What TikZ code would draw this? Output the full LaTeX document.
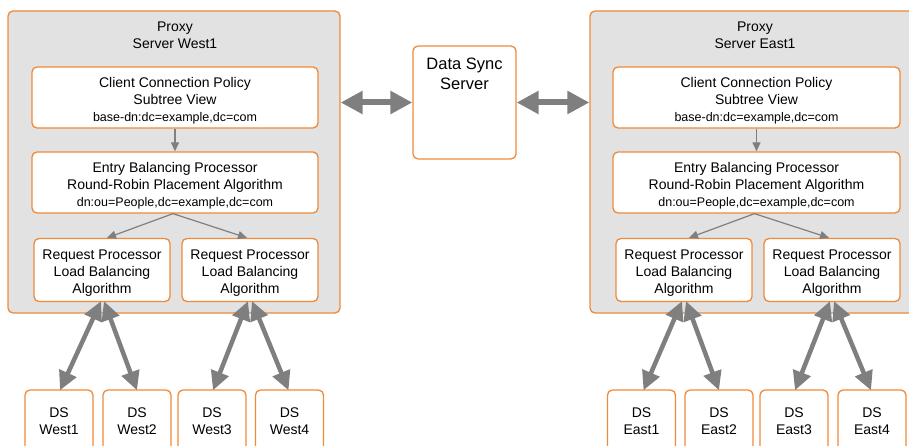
\documentclass[tikz,border=0pt]{standalone}
\usepackage{fontspec}
\setmainfont{Liberation Sans}
\usetikzlibrary{arrows.meta}
\definecolor{org}{RGB}{239,138,58}
\definecolor{pfill}{RGB}{226,226,226}
\definecolor{arr}{RGB}{127,127,127}
\tikzset{
  proxybox/.style={draw=org, line width=1.3pt, fill=pfill, rounded corners=5pt, inner sep=0pt},
  wbox/.style={draw=org, line width=1.3pt, fill=white, rounded corners=5pt, align=center, inner sep=0pt, font=\fontsize{14}{17}\selectfont},
  thin/.style={draw=arr, line width=1.2pt, -{Triangle[length=9pt,width=8pt]}},
  thick/.style={draw=arr, line width=4.5pt, {Triangle[length=19pt,width=18pt]}-{Triangle[length=19pt,width=18pt]}},
  hthick/.style={draw=arr, line width=6pt, {Triangle[length=22pt,width=22pt]}-{Triangle[length=22pt,width=22pt]}},
  ttl/.style={align=center, inner sep=0pt, font=\fontsize{14}{17}\selectfont}
}
\newcommand{\sm}[1]{{\fontsize{12.5}{14}\selectfont #1}}
\newcommand{\up}{\rule{0pt}{16pt}}
\begin{document}
\begin{tikzpicture}[x=1pt,y=-1pt]
\useasboundingbox (0,0) rectangle (909,446);
\clip (0,0) rectangle (909,446);
% proxy containers
\node[proxybox, minimum width=332pt, minimum height=302pt] (pw) at (174,162) {};
\node[proxybox, minimum width=330pt, minimum height=302pt] (pe) at (755,162) {};
\node[ttl, anchor=north] (tw) at (175,22) {Proxy\\Server West1};
\node[ttl, anchor=north] (te) at (755,22) {Proxy\\Server East1};
% data sync
\node[wbox, minimum width=103pt, minimum height=113pt] (ds) at (464.5,102.5) {};
\node[ttl, anchor=north, font=\fontsize{16.5}{20}\selectfont] (dst) at (464.5,58) {Data Sync\\Server};
% west inner
\node[wbox, minimum width=286pt, minimum height=61pt] (cw) at (175,97.5) {\up Client Connection Policy\\Subtree View\\\sm{base-dn:dc=example,dc=com}};
\node[wbox, minimum width=286pt, minimum height=61pt] (ew) at (175,182.5) {\up Entry Balancing Processor\\Round-Robin Placement Algorithm\\\sm{dn:ou=People,dc=example,dc=com}};
\node[wbox, minimum width=136pt, minimum height=63pt] (rw1) at (102,270) {\up Request Processor\\Load Balancing\\Algorithm};
\node[wbox, minimum width=136pt, minimum height=63pt] (rw2) at (250,270) {\up Request Processor\\Load Balancing\\Algorithm};
% east inner
\node[wbox, minimum width=287pt, minimum height=61pt] (ce) at (756.5,97.5) {\up Client Connection Policy\\Subtree View\\\sm{base-dn:dc=example,dc=com}};
\node[wbox, minimum width=287pt, minimum height=61pt] (ee) at (756.5,182.5) {\up Entry Balancing Processor\\Round-Robin Placement Algorithm\\\sm{dn:ou=People,dc=example,dc=com}};
\node[wbox, minimum width=136pt, minimum height=63pt] (re1) at (684,270) {\up Request Processor\\Load Balancing\\Algorithm};
\node[wbox, minimum width=136pt, minimum height=63pt] (re2) at (832,270) {\up Request Processor\\Load Balancing\\Algorithm};
% DS boxes
\node[wbox, minimum width=68pt, minimum height=62pt] (dw1) at (59,421) {DS\\West1};
\node[wbox, minimum width=68pt, minimum height=62pt] (dw2) at (137,421) {DS\\West2};
\node[wbox, minimum width=68pt, minimum height=62pt] (dw3) at (212,421) {DS\\West3};
\node[wbox, minimum width=68pt, minimum height=62pt] (dw4) at (289.5,421) {DS\\West4};
\node[wbox, minimum width=68pt, minimum height=62pt] (de1) at (641.5,421) {DS\\East1};
\node[wbox, minimum width=68pt, minimum height=62pt] (de2) at (719,421) {DS\\East2};
\node[wbox, minimum width=68pt, minimum height=62pt] (de3) at (794,421) {DS\\East3};
\node[wbox, minimum width=68pt, minimum height=62pt] (de4) at (872,421) {DS\\East4};
% thin arrows
\draw[thin] (cw.south) -- (ew.north);
\draw[thin] ([xshift=-2pt]ew.south) -- ([xshift=5pt]rw1.north);
\draw[thin] ([xshift=-2pt]ew.south) -- ([xshift=-3pt]rw2.north);
\draw[thin] (ce.south) -- (ee.north);
\draw[thin] ([xshift=-2pt]ee.south) -- ([xshift=5pt]re1.north);
\draw[thin] ([xshift=-2pt]ee.south) -- ([xshift=-3pt]re2.north);
% thick arrows
\draw[thick] ([xshift=-1pt,yshift=1pt]rw1.south) -- ([xshift=1pt,yshift=-1pt]dw1.north);
\draw[thick] ([xshift=2pt,yshift=1pt]rw1.south) -- ([yshift=-1pt]dw2.north);
\draw[thick] ([xshift=-2pt,yshift=1pt]rw2.south) -- ([xshift=1pt,yshift=-1pt]dw3.north);
\draw[thick] ([xshift=2pt,yshift=1pt]rw2.south) -- ([xshift=-1pt,yshift=-1pt]dw4.north);
\draw[thick] ([xshift=-2pt,yshift=1pt]re1.south) -- ([xshift=2pt,yshift=-1pt]de1.north);
\draw[thick] ([xshift=2pt,yshift=1pt]re1.south) -- ([yshift=-1pt]de2.north);
\draw[thick] ([xshift=-2pt,yshift=1pt]re2.south) -- ([xshift=1pt,yshift=-1pt]de3.north);
\draw[thick] ([xshift=2pt,yshift=1pt]re2.south) -- ([xshift=-1pt,yshift=-1pt]de4.north);
% horizontal
\draw[hthick] (ds.west -| pw.east) -- (ds.west);
\draw[hthick] (ds.east) -- (ds.east -| pe.west);
\end{tikzpicture}
\end{document}
